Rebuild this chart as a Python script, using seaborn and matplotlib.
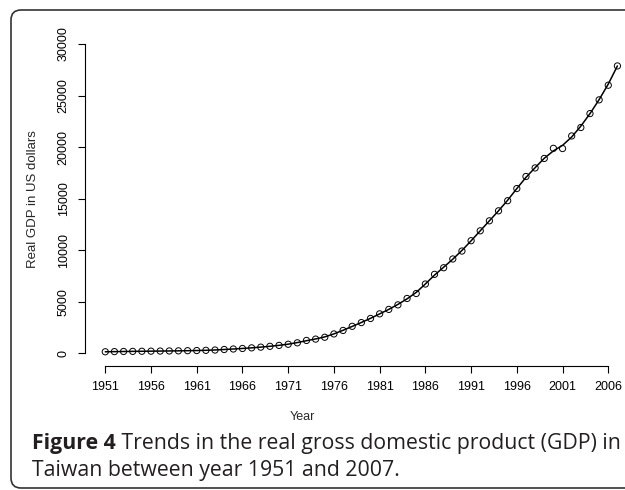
import numpy as np
import pandas as pd
import matplotlib
matplotlib.use("Agg")
import matplotlib.pyplot as plt
from matplotlib.patches import FancyBboxPatch
from matplotlib.transforms import IdentityTransform
import seaborn as sns

# Datos (PIB real de Taiwan, USD)
years = list(range(1951, 2008))
gdp = [150, 165, 180, 190, 200, 210, 220, 230, 240, 255,
       270, 290, 320, 370, 420, 470, 530, 600, 680, 770,
       880, 1020, 1250, 1380, 1560, 1880, 2220, 2620, 2980, 3380,
       3830, 4260, 4700, 5320, 5800, 6720, 7660, 8300, 9150, 9920,
       10920, 11880, 12850, 13820, 14800, 15980, 17150, 17980, 18900, 19880,
       19860, 21080, 21900, 23250, 24580, 26000, 27870]
x_ticks = list(range(1951, 2007, 5))
y_ticks = [0, 5000, 10000, 15000, 20000, 25000, 30000]
caption_bold = "Figure 4"
caption_rest = " Trends in the real gross domestic product (GDP) in"
caption_line2 = "Taiwan between year 1951 and 2007."

data = pd.DataFrame({"year": years, "gdp": gdp})
# curva de tendencia suavizada (1,2,1)
g = np.array(gdp, dtype=float)
smooth = g.copy()
smooth[1:-1] = (g[:-2] + 2 * g[1:-1] + g[2:]) / 4
data["trend"] = smooth

sns.set_style("ticks")
plt.rcParams["font.family"] = ["Liberation Sans", "DejaVu Sans"]

W, H = 625, 490
fig = plt.figure(figsize=(W / 100, H / 100), dpi=100)

# marco redondeado del articulo
frame = FancyBboxPatch((11, 2), 720, 478, boxstyle="round,pad=0,rounding_size=10",
                       transform=IdentityTransform(), facecolor="none",
                       edgecolor="#333333", linewidth=1.2)
fig.patches.append(frame)

left, right = 84.8, 637.9
top, bottom = 31.6, 365.7
ax = fig.add_axes([left / W, 1 - bottom / H, (right - left) / W, (bottom - top) / H])
ax.patch.set_alpha(0)

sns.lineplot(data=data, x="year", y="trend", color="black", linewidth=1.1, ax=ax)
sns.scatterplot(data=data, x="year", y="gdp", marker="o", s=20, facecolor="none",
                edgecolor="black", linewidth=0.7, ax=ax, zorder=3)

ax.set_xlim(1948.76, 2009.24)
ax.set_ylim(-1200, 31200)
ax.set_xticks(x_ticks)
ax.set_yticks(y_ticks)
ax.set_xticklabels([str(t) for t in x_ticks])
ax.set_yticklabels([str(t) for t in y_ticks], rotation=90, va="center")
ax.set_xlabel("")
ax.set_ylabel("")

for s in ["top", "right"]:
    ax.spines[s].set_visible(False)
ax.spines["left"].set_bounds(0, 30000)
ax.spines["bottom"].set_bounds(1951, 2006)
for s in ["left", "bottom"]:
    ax.spines[s].set_linewidth(0.8)
    ax.spines[s].set_color("black")
ax.tick_params(direction="out", length=5.3, width=0.8, pad=5.5, labelsize=9,
               colors="black")

fig.text(33 / W, 1 - 198.6 / H, "Real GDP in US dollars", rotation=90,
         ha="center", va="center", fontsize=9.5)
fig.text(302 / W, 1 - 417 / H, "Year", ha="center", va="center", fontsize=9)

# leyenda de la figura
cap_font = ["Open Sans", "DejaVu Sans"]
cap_color = "#231f20"
size = 12
t1 = fig.text(32 / W, 1 - 449 / H, caption_bold, fontsize=size, fontweight="bold",
              family=cap_font, color=cap_color, va="baseline")
t2 = fig.text(0, 1 - 449 / H, caption_rest, fontsize=size,
              family=cap_font, color=cap_color, va="baseline")
t3 = fig.text(32 / W, 1 - 476 / H, caption_line2, fontsize=size,
              family=cap_font, color=cap_color, va="baseline")

# ajustar tamano para que la primera linea ocupe el ancho del original
renderer = fig.canvas.get_renderer()
w1 = t1.get_window_extent(renderer).width
w2 = t2.get_window_extent(renderer).width
scale = (617 - 32) / (w1 + w2)
for t in (t1, t2, t3):
    t.set_fontsize(size * scale)
w1 = t1.get_window_extent(renderer).width
t2.set_x((32 + w1) / W)

fig.savefig("out.png", dpi=100)
